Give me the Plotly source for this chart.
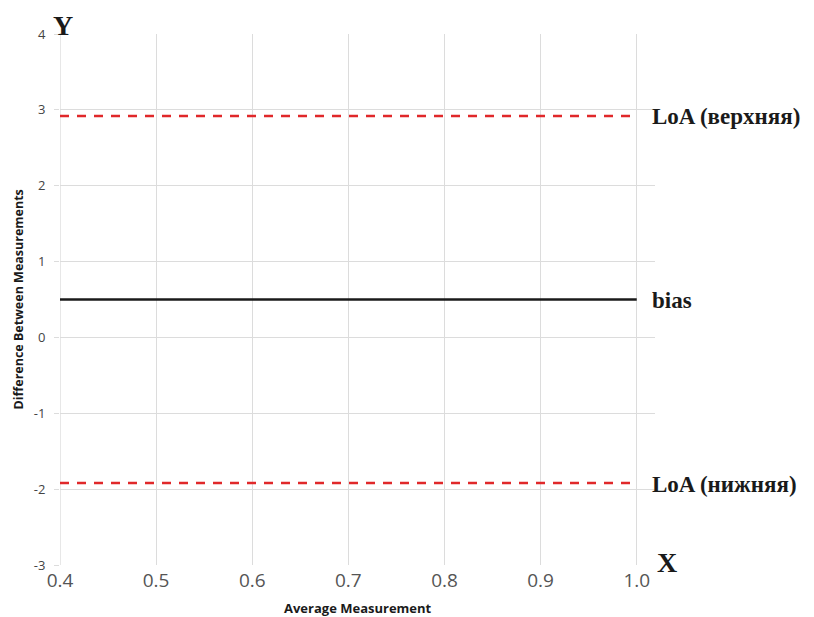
import plotly.graph_objects as go

# Data
x_range_line = [0.4, 1.0]
bias_value = 0.5
loa_upper = 2.92
loa_lower = -1.92
x_ticks = [0.4, 0.5, 0.6, 0.7, 0.8, 0.9, 1.0]
x_tick_labels = ["0.4", "0.5", "0.6", "0.7", "0.8", "0.9", "1.0"]
y_ticks = [-3, -2, -1, 0, 1, 2, 3, 4]
y_tick_labels = ["-3", "-2", "-1", "0", "1", "2", "3", "4"]
line_labels = ["LoA (верхняя)", "bias", "LoA (нижняя)"]

fig = go.Figure()
fig.add_trace(go.Scatter(x=x_range_line, y=[loa_upper, loa_upper], mode="lines",
                         line=dict(color="#e0282a", width=2.5, dash="9px,8px"), showlegend=False))
fig.add_trace(go.Scatter(x=x_range_line, y=[bias_value, bias_value], mode="lines",
                         line=dict(color="#1a1a1a", width=2.5), showlegend=False))
fig.add_trace(go.Scatter(x=x_range_line, y=[loa_lower, loa_lower], mode="lines",
                         line=dict(color="#e0282a", width=2.5, dash="9px,8px"), showlegend=False))

serif = dict(family="Liberation Serif", size=23, color="#1a1a1a")
ann = []
for val, txt in zip([loa_upper, bias_value, loa_lower], line_labels):
    ann.append(dict(x=1.0, y=val, xref="x", yref="y", text="<b>%s</b>" % txt, showarrow=False,
                    xanchor="left", yanchor="middle", xshift=13, yshift=-1, font=serif))
ann.append(dict(x=0.4, y=4, xref="x", yref="y", text="<b>Y</b>", showarrow=False,
                xanchor="center", yanchor="bottom", xshift=3, yshift=-9,
                font=dict(family="Liberation Serif", size=28, color="#1a1a1a")))
ann.append(dict(x=1.0, y=-3, xref="x", yref="y", text="<b>X</b>", showarrow=False,
                xanchor="left", yanchor="middle", xshift=18, yshift=3,
                font=dict(family="Liberation Serif", size=28, color="#1a1a1a")))
ann.append(dict(x=0.5, y=0, xref="paper", yref="paper", text="<b>Average Measurement</b>",
                showarrow=False, xanchor="center", yanchor="middle", yshift=-43,
                font=dict(family="Open Sans", size=13, color="#1a1a1a")))
ann.append(dict(x=0, y=0.5, xref="paper", yref="paper", text="<b>Difference Between Measurements</b>",
                showarrow=False, xanchor="center", yanchor="middle", xshift=-42, textangle=-90,
                font=dict(family="Open Sans", size=12.5, color="#1a1a1a")))

fig.update_layout(
    width=814, height=617,
    margin=dict(l=60, r=159, t=34, b=52),
    paper_bgcolor="white", plot_bgcolor="white",
    annotations=ann,
    xaxis=dict(range=[0.4, 1.019], tickvals=x_ticks, ticktext=x_tick_labels,
               showgrid=True, gridcolor="#dcdcdc", gridwidth=1, zeroline=False,
               showline=False, ticks="", ticklabelstandoff=2,
               tickfont=dict(family="Open Sans", size=19, color="#555555")),
    yaxis=dict(range=[-3, 4], tickvals=y_ticks, ticktext=y_tick_labels,
               showgrid=True, gridcolor="#dcdcdc", gridwidth=1, zeroline=False,
               showline=False, ticks="outside", ticklen=5, tickcolor="#dcdcdc",
               ticklabelstandoff=6,
               tickfont=dict(family="Open Sans", size=13, color="#444444")),
)
fig.add_shape(type="line", xref="x", yref="y", x0=0.4, x1=0.4, y0=-3, y1=4,
              line=dict(color="#d0d0d0", width=1), layer="below")
fig.write_html("out.html")
